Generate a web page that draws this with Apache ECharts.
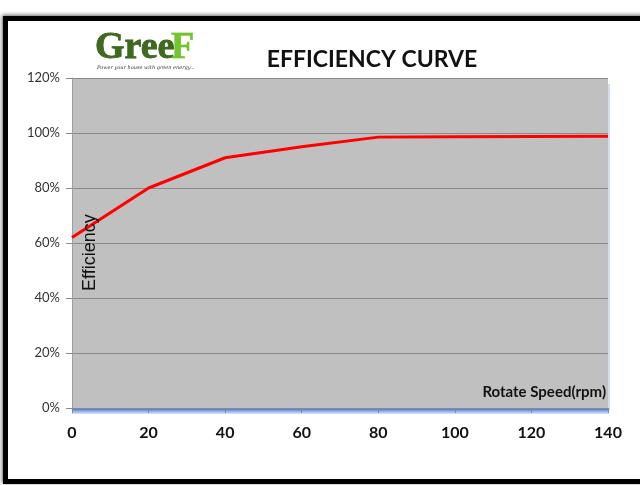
<!DOCTYPE html>
<html>
<head>
<meta charset="utf-8">
<script src="https://cdn.jsdelivr.net/npm/echarts@6/dist/echarts.min.js"></script>
<style>
  html, body { margin: 0; padding: 0; background: #ffffff; }
  #wrap { position: relative; width: 640px; height: 485px; overflow: hidden; background: #fff; }
  #frame {
    position: absolute; left: 3px; top: 16px; width: 720px; height: 458px;
    border-top: 5px solid #000; border-left: 5px solid #000; border-bottom: 5px solid #000;
    box-shadow: -1px -1px 4px rgba(0,0,0,0.6);
    background: #fff;
  }
  #chart { position: absolute; left: 0; top: 0; width: 640px; height: 485px; }
</style>
</head>
<body>
<div id="wrap">
  <div id="frame"></div>
  <div id="chart"></div>
</div>
<script>
// Rotate speed (rpm) and efficiency (%)
const speeds = [0, 20, 40, 60, 80, 100, 120, 140];
const efficiency = [62, 80, 91, 95, 98.5, 98.6, 98.7, 98.8];
const yTicks = [0, 20, 40, 60, 80, 100, 120];
const xTicks = [0, 20, 40, 60, 80, 100, 120, 140];

const chart = echarts.init(document.getElementById('chart'), null, { renderer: 'canvas' });

const points = speeds.map((s, i) => [s, efficiency[i]]);

chart.setOption({
  backgroundColor: 'transparent',
  animation: false,
  title: {
    text: 'EFFICIENCY CURVE',
    left: 367, top: 43, textAlign: 'center',
    textStyle: { fontFamily: 'Lato', fontSize: 23, fontWeight: 'bold', color: '#111' }
  },
  grid: { left: 72, top: 78, right: 32, bottom: 77, backgroundColor: '#c0c0c0', show: true, borderWidth: 0 },
  xAxis: {
    type: 'value', min: xTicks[0], max: xTicks[xTicks.length - 1], interval: 20,
    axisLine: { show: true, lineStyle: { color: '#8a8a8a', width: 1 } },
    axisTick: { show: true, length: 5, inside: false, lineStyle: { color: '#8a8a8a' } },
    splitLine: { show: false },
    axisLabel: { margin: 17, fontFamily: 'Lato', fontWeight: 'bold', fontSize: 16, color: '#111' },
    name: 'Rotate Speed(rpm)', nameLocation: 'end', nameGap: 0,
    nameTextStyle: { fontFamily: 'Lato', fontWeight: 'bold', fontSize: 15, color: '#111',
      align: 'right', verticalAlign: 'bottom', padding: [0, 2, 8, 0] }
  },
  yAxis: {
    type: 'value', min: yTicks[0], max: yTicks[yTicks.length - 1], interval: 20,
    axisLine: { show: true, lineStyle: { color: '#9aa0aa', width: 1 } },
    axisTick: { show: true, length: 6, lineStyle: { color: '#8a8a8a' } },
    splitLine: { show: true, lineStyle: { color: '#8a8a8a', width: 1 } },
    axisLabel: { margin: 12, fontFamily: 'Lato', fontSize: 13, color: '#333', formatter: '{value}%' }
  },
  graphic: [
    // blue floor strip under the plot
    { type: 'rect', left: 72, top: 409, shape: { width: 537, height: 5 }, z: 0, silent: true,
      style: { fill: new echarts.graphic.LinearGradient(0, 0, 0, 1, [
        { offset: 0, color: '#4a78d8' }, { offset: 1, color: 'rgba(120,160,235,0.3)' }]) } },
    // faint blue edge on the right side of the plot
    { type: 'rect', left: 608, top: 84, shape: { width: 2, height: 326 }, z: 0, silent: true,
      style: { fill: 'rgba(150,180,240,0.45)' } },
    // logo panel
    { type: 'rect', left: 86, top: 22, shape: { width: 108, height: 56 }, z: 10, silent: true,
      style: { fill: '#ffffff' } },
    { type: 'text', x: 95, y: 29, z: 11, silent: true,
      style: { text: 'Gree', fontFamily: 'Liberation Serif', fontWeight: 'bold', fontSize: 38,
        fill: '#3d6a1c', stroke: '#2e5414', lineWidth: 0.8 } },
    { type: 'text', x: 171, y: 29, z: 11, silent: true,
      style: { text: 'F', fontFamily: 'Liberation Serif', fontWeight: 'bold', fontSize: 38,
        fill: '#72c62a', stroke: '#5aa81c', lineWidth: 0.5 } },
    { type: 'text', x: 97, y: 65, z: 11, silent: true,
      style: { text: 'Power your house with green energy...', fontFamily: 'DejaVu Serif',
        fontStyle: 'italic', fontSize: 5, fill: '#333' } },
    // y-axis title drawn inside the plot, reading bottom to top
    { type: 'text', x: 81, y: 291, rotation: Math.PI / 2, z: 20, silent: true,
      style: { text: 'Efficiency', fontFamily: 'Liberation Sans', fontSize: 18, fill: '#111',
        x: 0, y: 0, textAlign: 'left', textVerticalAlign: 'top' } }
  ],
  series: [{
    type: 'line',
    data: points,
    showSymbol: false,
    lineStyle: { color: '#ff0000', width: 3 },
    z: 5
  }]
});
</script>
</body>
</html>
